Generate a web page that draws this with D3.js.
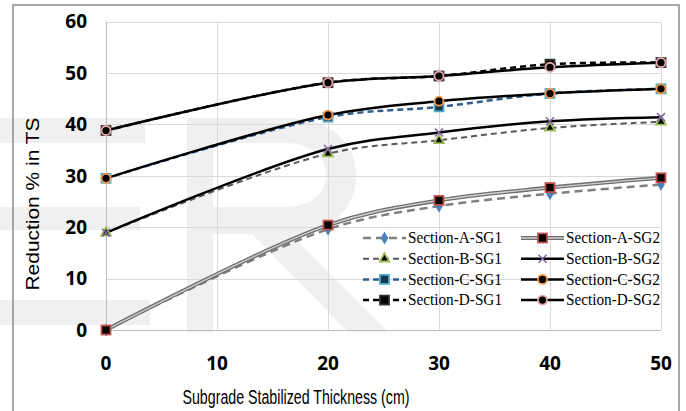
<!DOCTYPE html>
<meta charset="utf-8">
<title>Reduction % in TS vs subgrade stabilized thickness</title>
<style>
body { margin: 0; background: #fff; }
svg { display: block; }
.grid line { stroke: #d9d9d9; stroke-width: 1; }
.tick-label { font: bold 19px "Open Sans", sans-serif; fill: #000; }
.legend text { font: 16px "Liberation Serif", "Times New Roman", serif; fill: #000; }
</style>
<script src="https://d3js.org/d3.v7.min.js"></script>
<body>
<script>

var width = 686, height = 411;

// thickness of stabilized subgrade (cm)
var thickness = [0, 20, 30, 40, 50];

// reduction % in TS
var sectionASG1 = [0, 19.6, 24.1, 26.5, 28.3];
var sectionASG2 = [0, 20.4, 25.2, 27.7, 29.6];
var sectionBSG1 = [18.9, 34.3, 36.9, 39.3, 40.5];
var sectionBSG2 = [18.9, 35.2, 38.4, 40.6, 41.4];
var sectionCSG1 = [29.5, 41.4, 43.4, 46.0, 46.9];
var sectionCSG2 = [29.5, 41.8, 44.5, 46.0, 46.9];
var sectionDSG1 = [38.8, 48.1, 49.4, 51.7, 52.0];
var sectionDSG2 = [38.8, 48.1, 49.4, 51.1, 52.0];

var xTicks = [0, 10, 20, 30, 40, 50];
var yTicks = [0, 10, 20, 30, 40, 50, 60];

var seriesNames = ["Section-A-SG1", "Section-A-SG2", "Section-B-SG1", "Section-B-SG2",
                   "Section-C-SG1", "Section-C-SG2", "Section-D-SG1", "Section-D-SG2"];
var seriesValues = [sectionASG1, sectionASG2, sectionBSG1, sectionBSG2,
                    sectionCSG1, sectionCSG2, sectionDSG1, sectionDSG2];

// line + marker look of every series (Excel style)
var styles = [
  { stroke: "#7f7f7f", width: 2.5, dash: "8,5", marker: "diamond", fill: "#4f81bd", mstroke: "none" },
  { stroke: "#6e6e6e", width: 4, inner: "#d0d0d0", marker: "square", fill: "#000", mstroke: "#c0504d" },
  { stroke: "#595959", width: 2, dash: "6,4", marker: "triangle", fill: "#000", mstroke: "#9bbb59" },
  { stroke: "#000", width: 2.5, marker: "cross", fill: "none", mstroke: "#8064a2" },
  { stroke: "#2f5d8c", width: 2.5, dash: "6,4", marker: "square", fill: "#1b3550", mstroke: "#4bacc6" },
  { stroke: "#000", width: 2.5, marker: "circle", fill: "#000", mstroke: "#f79646" },
  { stroke: "#000", width: 2.5, dash: "6,4", marker: "square", fill: "#000", mstroke: "#333" },
  { stroke: "#000", width: 2.5, marker: "circle", fill: "#000", mstroke: "#e6a7a7" }
];

var series = seriesNames.map(function(name, i) {
  return {
    name: name,
    style: styles[i],
    points: thickness.map(function(t, j) { return { x: t, y: seriesValues[i][j] }; })
  };
});

var svg = d3.select("body").append("svg")
    .attr("width", width)
    .attr("height", height);

// faint watermark letters behind the chart
var wm = svg.append("g").attr("fill", "#f0f0f0");
wm.append("rect").attr("x", 0).attr("y", 118).attr("width", 145).attr("height", 25);
wm.append("rect").attr("x", 0).attr("y", 207).attr("width", 140).attr("height", 23);
wm.append("rect").attr("x", 0).attr("y", 300).attr("width", 150).attr("height", 25);
wm.append("path").attr("fill-rule", "evenodd")
    .attr("d", "M187,118 H285 C330,118 356,142 356,175 C356,210 330,234 290,234 L388,332 H348 L252,234 H213 V332 H187 Z " +
               "M213,143 V207 H285 C310,207 326,194 326,175 C326,156 310,143 285,143 Z");

// outer chart frame
svg.append("path")
    .attr("d", "M13," + (height + 2) + " V5 H679 V" + (height + 2))
    .attr("fill", "none")
    .attr("stroke", "#8c8c8c")
    .attr("stroke-width", 1.5);

var x = d3.scaleLinear().domain([0, 50]).range([106, 661]);
var y = d3.scaleLinear().domain([0, 60]).range([330, 21.5]);

// gridlines
var grid = svg.append("g").attr("class", "grid");
grid.selectAll("line.h")
    .data(yTicks.slice(1))
  .enter().append("line")
    .attr("class", "h")
    .attr("x1", x(0)).attr("x2", x(50))
    .attr("y1", function(d) { return Math.round(y(d)) + 0.5; })
    .attr("y2", function(d) { return Math.round(y(d)) + 0.5; });
grid.selectAll("line.v")
    .data(xTicks.slice(1))
  .enter().append("line")
    .attr("class", "v")
    .attr("y1", y(0)).attr("y2", y(60))
    .attr("x1", function(d) { return Math.round(x(d)) + 0.5; })
    .attr("x2", function(d) { return Math.round(x(d)) + 0.5; });

// axes lines
svg.append("line")
    .attr("x1", x(0) + 0.5).attr("x2", x(0) + 0.5)
    .attr("y1", y(0)).attr("y2", y(60))
    .attr("stroke", "#bfbfbf");
svg.append("line")
    .attr("x1", x(0)).attr("x2", x(50))
    .attr("y1", Math.round(y(0)) + 0.5).attr("y2", Math.round(y(0)) + 0.5)
    .attr("stroke", "#bfbfbf");

// tick labels
svg.selectAll("text.ytick")
    .data(yTicks)
  .enter().append("text")
    .attr("class", "tick-label")
    .attr("x", 87)
    .attr("y", function(d) { return y(d); })
    .attr("dy", "0.36em")
    .attr("text-anchor", "end")
    .text(function(d) { return d; });

svg.selectAll("text.xtick")
    .data(xTicks)
  .enter().append("text")
    .attr("class", "tick-label")
    .attr("x", function(d) { return x(d); })
    .attr("y", 363)
    .attr("dy", "0.36em")
    .attr("text-anchor", "middle")
    .text(function(d) { return d; });

// axis titles
svg.append("text")
    .attr("x", 296)
    .attr("y", 404)
    .attr("text-anchor", "middle")
    .attr("font-family", "'Liberation Sans Narrow', 'Liberation Sans', Arial, sans-serif")
    .attr("font-size", 20)
    .attr("textLength", 227)
    .attr("lengthAdjust", "spacingAndGlyphs")
    .text("Subgrade Stabilized Thickness (cm)");

svg.append("text")
    .attr("transform", "translate(39,204) rotate(-90)")
    .attr("text-anchor", "middle")
    .attr("font-family", "'Liberation Sans', Arial, sans-serif")
    .attr("font-size", 19)
    .attr("textLength", 173)
    .attr("lengthAdjust", "spacingAndGlyphs")
    .text("Reduction % in TS");

var line = d3.line()
    .x(function(d) { return x(d.x); })
    .y(function(d) { return y(d.y); })
    .curve(d3.curveCatmullRom.alpha(0.5));

function drawLine(g, s, dAttr) {
  g.append("path")
      .attr("d", dAttr)
      .attr("fill", "none")
      .attr("stroke", s.stroke)
      .attr("stroke-width", s.width)
      .attr("stroke-dasharray", s.dash || null);
  if (s.inner) {
    g.append("path")
        .attr("d", dAttr)
        .attr("fill", "none")
        .attr("stroke", s.inner)
        .attr("stroke-width", 1.3);
  }
}

function drawMarker(g, s, cx, cy) {
  var m;
  if (s.marker === "circle") {
    m = g.append("circle").attr("cx", cx).attr("cy", cy).attr("r", 4.5);
  } else if (s.marker === "square") {
    m = g.append("rect").attr("x", cx - 4.5).attr("y", cy - 4.5).attr("width", 9).attr("height", 9);
  } else if (s.marker === "diamond") {
    m = g.append("path").attr("d", d3.symbol(d3.symbolDiamond, 50)()).attr("transform", "translate(" + cx + "," + cy + ")");
  } else if (s.marker === "triangle") {
    m = g.append("path").attr("d", d3.symbol(d3.symbolTriangle, 40)()).attr("transform", "translate(" + cx + "," + cy + ")");
  } else {
    m = g.append("path").attr("d", "M-4,-4L4,4M-4,4L4,-4").attr("transform", "translate(" + cx + "," + cy + ")");
  }
  m.attr("fill", s.fill)
   .attr("stroke", s.mstroke)
   .attr("stroke-width", s.marker === "cross" ? 1.5 : 1.8);
}

// series lines, then markers
var lines = svg.append("g");
series.forEach(function(sr) { drawLine(lines, sr.style, line(sr.points)); });

var markers = svg.append("g");
series.forEach(function(sr) {
  sr.points.forEach(function(p) { drawMarker(markers, sr.style, x(p.x), y(p.y)); });
});

// legend: 2 columns x 4 rows
var legend = svg.append("g").attr("class", "legend");
series.forEach(function(sr, i) {
  var col = i % 2, row = Math.floor(i / 2);
  var x0 = col === 0 ? 363 : 521;
  var cy = 238 + row * 20.7;
  var g = legend.append("g");
  drawLine(g, sr.style, "M" + x0 + "," + cy + "H" + (x0 + 43));
  drawMarker(g, sr.style, x0 + 21.5, cy);
  g.append("text")
      .attr("x", x0 + 45)
      .attr("y", cy)
      .attr("dy", "0.33em")
      .attr("textLength", 94)
      .attr("lengthAdjust", "spacingAndGlyphs")
      .text(sr.name);
});

</script>
